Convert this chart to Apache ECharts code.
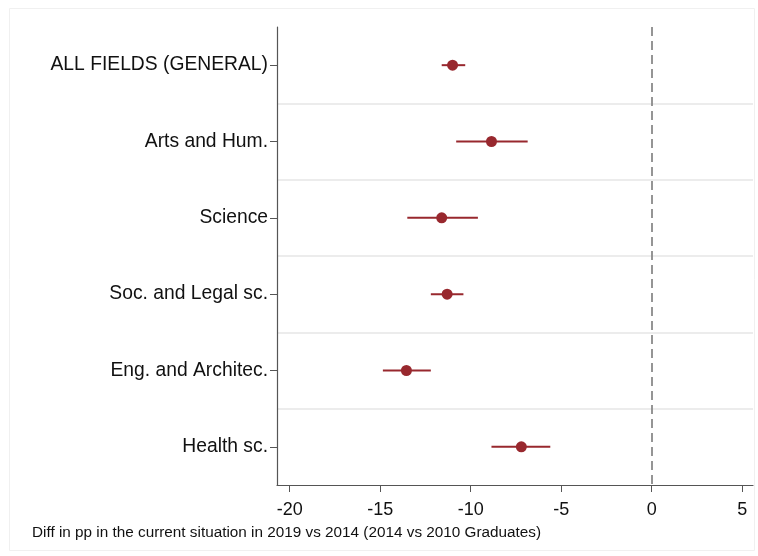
<!DOCTYPE html>
<html><head><meta charset="utf-8">
<script src="https://cdn.jsdelivr.net/npm/echarts@6/dist/echarts.min.js"></script>
<style>html,body{margin:0;padding:0;background:#fff}#c{width:758px;height:556px}</style>
</head><body><div id="c"></div>
<script>
const categories = ['ALL FIELDS (GENERAL)', 'Arts and Hum.', 'Science', 'Soc. and Legal sc.', 'Eng. and Architec.', 'Health sc.'];
const estimates = [-11.0, -8.85, -11.6, -11.3, -13.55, -7.2];
const ciLow = [-11.6, -10.8, -13.5, -12.2, -14.85, -8.85];
const ciHigh = [-10.3, -6.85, -9.6, -10.4, -12.2, -5.6];
const xTicks = [-20, -15, -10, -5, 0, 5];
const xTitle = 'Diff in pp in the current situation in 2019 vs 2014 (2014 vs 2010 Graduates)';

const color = '#98282e';
const font = '"Liberation Sans", Arial, sans-serif';
const chart = echarts.init(document.getElementById('c'), null, {renderer: 'canvas'});
chart.setOption({
  backgroundColor: '#fff',
  animation: false,
  graphic: [{
    type: 'rect', shape: {x: 9.5, y: 8.5, width: 745, height: 542},
    style: {fill: 'none', stroke: '#f0f0f0', lineWidth: 1}, silent: true, z: -1
  }, {
    type: 'text', left: 32, top: 525,
    style: {text: xTitle, font: '15.3px ' + font, fill: '#111'}
  }],
  grid: {left: 277, right: 5, top: 27, bottom: 71, containLabel: false},
  xAxis: {
    type: 'value', min: -20.7, max: 5.6,
    axisLine: {show: true, onZero: false, lineStyle: {color: '#555', width: 1.2}},
    axisTick: {show: true, length: 7, customValues: xTicks, lineStyle: {color: '#555'}},
    axisLabel: {customValues: xTicks, margin: 16, color: '#111', fontSize: 18, fontFamily: font},
    splitLine: {show: false}
  },
  yAxis: {
    type: 'category', data: categories, inverse: true, boundaryGap: true,
    axisLine: {show: true, onZero: false, lineStyle: {color: '#555', width: 1.2}},
    axisTick: {show: true, alignWithLabel: true, length: 7, lineStyle: {color: '#555'}},
    axisLabel: {margin: 9, color: '#111', fontSize: 19.3, fontFamily: font, padding: [8, 0, 0, 0]},
    splitLine: {show: true, showMinLine: false, showMaxLine: false, lineStyle: {color: '#e6e6e6', width: 1.5}}
  },
  series: [{
    type: 'custom',
    data: categories.map((c, i) => [i, ciLow[i], ciHigh[i]]),
    encode: {x: [1, 2], y: 0},
    renderItem: function (params, api) {
      const y = api.value(0);
      const p1 = api.coord([api.value(1), y]);
      const p2 = api.coord([api.value(2), y]);
      return {type: 'line', shape: {x1: p1[0], y1: p1[1], x2: p2[0], y2: p2[1]},
        style: {stroke: color, lineWidth: 2}};
    },
    z: 2
  }, {
    type: 'scatter',
    data: estimates.map((v, i) => [v, i]),
    symbol: 'circle', symbolSize: 11,
    itemStyle: {color: color, opacity: 1},
    z: 3,
    markLine: {
      silent: true, symbol: 'none', label: {show: false},
      lineStyle: {color: '#8a8a8a', type: [9, 5], width: 1.8},
      data: [{xAxis: 0}]
    }
  }]
});
</script></body></html>
